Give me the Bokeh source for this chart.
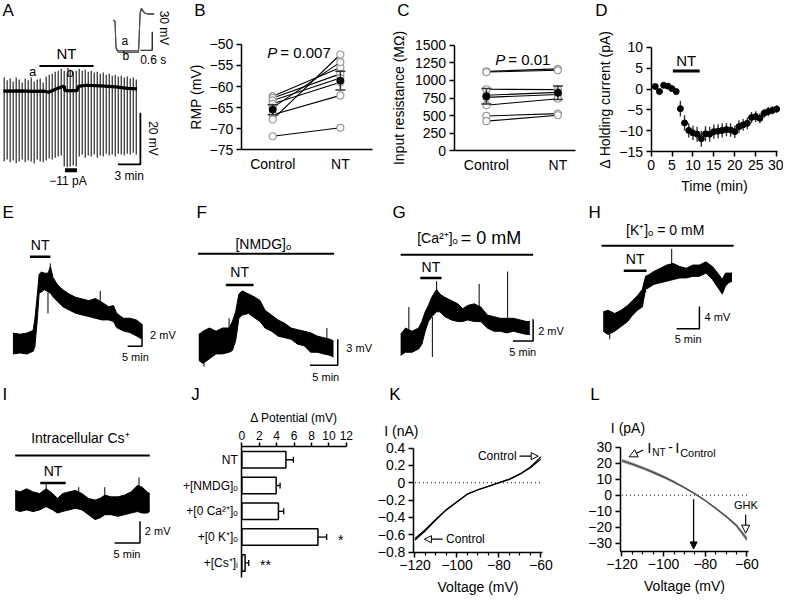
import math
from bokeh.plotting import figure
from bokeh.layouts import column, row
from bokeh.models import Range1d, FixedTicker, CustomJSTickFormatter, Arrow, NormalHead
from bokeh.core.properties import value
from bokeh.embed import file_html
from bokeh.resources import INLINE

FONT = "Liberation Sans"

# ---------------- Panel A: current-clamp recording ----------------
a_sweep_t = [0.1, 0.5, 0.9, 1.3, 1.7, 2.1, 2.5, 2.9, 3.3, 3.7, 4.1, 4.5, 4.9, 5.3, 5.7,
             6.1, 6.5, 6.9, 7.3, 7.7, 8.1, 8.5, 8.9, 9.3, 9.7, 10.1, 10.5, 10.9, 11.3, 11.7,
             12.1, 12.5, 12.9, 13.3, 13.7, 14.1, 14.5, 14.9, 15.3, 15.7, 16.1, 16.5, 16.9, 17.3, 17.7]
a_sweep_top = [5.3, 4.2, 4.9, 3.8, 5.3, 4.5, 3.4, 4.9, 4.2, 5.3, 3.8, 4.5, 4.9, 3.4,
               5.7, 6.4, 6.8, 7.5, 7.9, 8.7,
               7.9, 7.2, 8.3, 7.5, 7.9,
               8.7, 7.9, 8.3, 7.5, 7.9, 7.2, 7.5, 6.8, 7.2, 6.4, 6.8, 6.0, 6.4, 5.7, 6.0, 5.3, 5.7, 4.9, 5.3, 4.5]
a_sweep_bot = [-27.2, -26.4, -27.5, -26.8, -27.9, -27.2, -26.4, -27.5, -26.8, -27.2, -27.9, -26.4, -27.2, -27.5,
               -26.8, -26.0, -26.4, -25.7, -25.3, -24.9,
               -29.1, -29.4, -29.1, -28.7, -29.1,
               -25.3, -24.5, -25.7, -24.9, -25.3, -24.5, -25.7, -24.9, -25.3, -24.2, -24.9, -24.5, -25.3,
               -24.2, -24.5, -24.9, -24.2, -24.5, -23.8, -24.5]
a_trace_t = [0, 2, 4, 5.5, 6.0, 6.5, 7.2, 7.8, 8.1, 8.2, 9.8, 10.0, 11.0, 13.0, 15.0, 16.5, 17.8]
a_trace_v = [0, 0.1, -0.1, 0.0, -0.4, 0.2, 1.1, 1.7, 1.9, 0.2, 0.2, 1.9, 2.3, 2.1, 1.7, 1.1, 0.9]
a_nt_on, a_nt_off = 4.8, 12.0
a_inj_on, a_inj_off = 8.2, 9.8
a_scale_min, a_scale_mv = 3, 20
# inset (s, mV)
a_ins_t = [0.0, 0.1, 0.15, 0.25, 0.6, 1.0, 1.3, 1.33, 1.38, 1.45, 1.55, 1.65, 1.8, 2.1]
a_ins_a = [0, -2, -45, -50, -50, -50, -50, -30, 12, 19, 14, 11, 10, 10]
a_ins_b = [0, -2, -46, -52, -52.5, -52.5, -52.5, -32, 10, 17, 13, 10.5, 9.5, 9.5]
a_ins_scale_s, a_ins_scale_mv = 0.6, 30

# ---------------- Panel B: RMP ----------------
b_groups = ["Control", "NT"]
b_ctrl = [-62.3, -62.7, -63.3, -64.1, -65.0, -66.7, -67.8, -71.8]
b_nt = [-55.5, -57.0, -58.0, -59.0, -54.2, -62.1, -52.4, -69.8]
b_mean = [-65.5, -58.6]
b_sem = [1.2, 2.2]
b_ticks = [-75, -70, -65, -60, -55, -50]

# ---------------- Panel C: input resistance ----------------
c_ctrl = [1130, 1120, 875, 790, 760, 648, 495, 421]
c_nt = [1165, 1145, 870, 830, 800, 740, 528, 505]
c_mean = [775, 825]
c_sem = [110, 97]
c_ticks = [0, 250, 500, 750, 1000, 1250, 1500]

# ---------------- Panel D: holding current ----------------
d_t = [1, 2, 3, 4, 5, 6, 7, 8, 9, 10, 11, 12, 13, 14, 15, 16, 17, 18, 19, 20,
       21, 22, 23, 24, 25, 26, 27, 28, 29, 30]
d_mean = [0.6, -0.6, 0.9, 0.7, 0.1, -0.6, -4.7, -8.1, -9.9, -10.5, -10.8, -11.9, -10.7, -10.8, -10.2,
          -10.1, -9.9, -9.7, -9.8, -10.2, -9.0, -8.6, -8.2, -6.8, -6.6, -7.0, -5.8, -5.4, -5.1, -4.8]
d_sem = [0.3, 0.3, 0.3, 0.3, 0.3, 0.4, 1.9, 1.8, 1.7, 1.7, 1.8, 1.9, 1.8, 1.8, 1.7,
         1.7, 1.7, 1.6, 1.6, 1.5, 1.5, 1.4, 1.4, 1.3, 1.3, 1.2, 1.1, 1.1, 1.0, 0.9]
d_nt_on, d_nt_off = 5.2, 11.6
d_xticks = [0, 5, 10, 15, 20, 25, 30]
d_yticks = [-15, -10, -5, 0, 5, 10]

# ---------------- Panels E-I: traces (min, mV) ----------------
e_t = [0, 2.5, 4.8, 7.0, 7.6, 8.4, 9.1, 9.9, 11.0, 12.2, 13.0, 13.9, 15.6, 17.3, 19.5, 21.8, 24.1,
       26.4, 28.6, 30.9, 33.2, 34.9, 36.0, 38.3, 40.6, 42.8, 44.8]
e_hi = [0.95, 0.85, 0.95, 1.2, 2.2, 4.3, 6.3, 6.5, 6.4, 6.4, 7.0, 6.0, 5.3, 4.9, 4.5, 4.2, 4.05,
        3.9, 4.1, 3.75, 3.35, 3.45, 2.75, 2.3, 2.3, 2.15, 1.75]
e_lo = [-0.95, -0.85, -0.95, -0.7, -0.3, 2.0, 4.6, 4.7, 4.9, 4.7, 4.6, 4.25, 3.8, 3.35, 3.05, 2.75,
        2.6, 2.45, 2.3, 2.15, 2.15, 2.0, 1.45, 1.15, 1.0, 0.7, 0.4]
e_spk_t = [12.16, 12.95, 30.3]
e_spk_a = [4.65, 4.56, 2.15]
e_spk_b = [2.74, 7.29, 4.79]
e_nt = (5.9, 13.0)

f_t = [0, 0.76, 1.94, 3.12, 4.29, 5.47, 6.06, 6.65, 7.24, 7.82, 9.0, 10.18, 11.06, 11.94, 13.12,
       14.29, 15.47, 16.65, 17.82, 19.0, 20.18, 21.35, 22.53, 23.71, 24.29]
f_hi = [1.31, 1.69, 2.06, 1.69, 2.06, 2.06, 2.81, 3.93, 6.0, 6.37, 6.0, 5.62, 5.24, 4.12, 3.56,
        2.99, 2.62, 2.06, 1.87, 1.69, 1.50, 1.12, 0.94, 0.75, 0.56]
f_lo = [-1.69, -2.06, -1.50, -0.94, -0.94, -0.75, -0.56, 0.56, 3.18, 3.56, 3.75, 3.18, 2.81, 2.06,
        1.69, 1.12, 0.94, 0.75, 0.19, 0.0, -0.75, -0.75, -0.94, -1.12, -1.31]
f_spk_t = [0.94, 5.47, 23.1]
f_spk_a = [-1.5, 0.5, 0.0]
f_spk_b = [-2.43, 3.18, 2.06]
f_nt = (4.88, 9.88)
f_cond = (-0.12, 24.4)

g_t = [0, 1.21, 2.82, 4.44, 5.24, 6.05, 6.85, 7.66, 8.87, 9.68, 10.89, 12.5, 14.11, 15.32, 16.53,
       18.15, 19.76, 21.37, 22.98, 24.6, 26.21, 27.82, 29.44, 31.05, 31.85]
g_hi = [0.90, 1.49, 1.19, 1.49, 2.09, 2.99, 3.58, 4.33, 5.07, 4.63, 4.33, 4.03, 3.73, 3.28, 3.58,
        3.73, 3.43, 2.69, 2.54, 2.39, 2.39, 2.39, 2.24, 2.09, 2.09]
g_lo = [-1.04, -0.75, -0.75, -0.45, 0.0, 1.19, 2.09, 2.54, 2.99, 2.99, 2.54, 2.24, 2.09, 2.09, 2.24,
        2.09, 2.09, 1.49, 1.19, 1.19, 1.04, 1.19, 1.04, 0.90, 0.90]
g_spk_t = [2.02, 7.82, 8.87, 19.35, 26.37]
g_spk_a = [0.5, 2.5, 4.0, 2.5, 1.5]
g_spk_b = [3.43, -1.19, 5.82, 5.58, 6.72]
g_nt = (4.84, 10.08)
g_cond = (0.0, 32.66)

h_t = [0, 1.07, 2.5, 3.93, 5.36, 6.43, 7.5, 8.57, 9.29, 10.0, 11.07, 12.5, 13.93, 15.36, 16.79,
       18.21, 19.64, 21.07, 22.5, 23.93, 25.36, 26.07, 26.79, 27.5, 28.21]
h_hi = [1.74, 2.03, 1.45, 2.03, 2.90, 3.77, 4.64, 5.80, 8.12, 8.41, 8.99, 9.57, 10.14, 10.43, 9.86,
        9.57, 10.14, 10.14, 10.72, 9.86, 8.41, 7.54, 8.70, 8.70, 8.70]
h_lo = [-1.74, -2.32, -1.74, -0.87, 0.0, 1.16, 2.03, 2.61, 5.80, 6.09, 6.67, 6.96, 7.25, 7.54, 7.83,
        7.83, 8.12, 8.12, 8.70, 7.54, 5.80, 4.93, 6.38, 6.96, 7.25]
h_spk_t = [1.43, 9.29, 15.0]
h_spk_a = [-1.0, 6.0, 9.5]
h_spk_b = [-3.19, 5.22, 13.04]
h_nt = (4.5, 9.5)
h_cond = (-0.36, 28.57)

i_t = [0, 0.96, 2.24, 3.53, 4.81, 6.09, 7.37, 8.33, 9.29, 10.58, 11.86, 13.14, 14.42, 15.71, 16.67,
       17.63, 18.91, 20.19, 21.47, 22.76, 24.04, 25.0, 25.96, 26.47]
i_hi = [1.04, 0.90, 1.19, 0.90, 0.75, 1.19, 0.75, 0.30, 0.75, 0.90, 1.04, 0.75, 0.30, 0.15, 0.30,
        0.60, 0.45, 0.45, 0.60, 0.90, 1.49, 1.34, 0.90, 0.75]
i_lo = [-0.75, -0.90, -0.75, -0.90, -0.75, -0.45, -0.75, -1.04, -0.90, -0.75, -0.60, -0.75, -1.19,
        -1.64, -1.49, -1.19, -1.19, -1.34, -1.19, -1.04, -0.90, -1.04, -1.04, -0.90]
i_spk_t = [6.09, 12.5, 17.63, 24.36]
i_spk_a = [0.0, 0.0, -0.5, 0.0]
i_spk_b = [1.79, 1.34, 1.34, 2.24]
i_nt = (4.94, 9.94)
i_cond = (0.0, 26.47)

# ---------------- Panel J: bar chart ----------------
j_labels = ["NT", "+[NMDG]\u2092", "+[0 Ca\u00b2\u207a]\u2092", "+[0 K\u207a]\u2092", "+[Cs\u207a]\u1d62"]
j_vals = [5.06, 3.94, 4.2, 8.74, 0.37]
j_sem = [0.86, 0.45, 0.6, 1.0, 0.42]
j_sig = ["", "", "", "*", "**"]
j_ticks = [0, 2, 4, 6, 8, 10, 12]

# ---------------- Panels K, L: I-V curves ----------------
k_v = [-120, -115, -110, -105, -100, -95, -90, -85, -80, -75, -70, -65, -60]
k_ctrl = [-0.66, -0.552, -0.428, -0.313, -0.221, -0.131, -0.081, -0.041, 0.0, 0.039, 0.097, 0.172, 0.272]
k_nt = [-0.64, -0.538, -0.419, -0.307, -0.218, -0.129, -0.080, -0.040, 0.002, 0.042, 0.102, 0.181, 0.298]
k_yticks = [-0.8, -0.6, -0.4, -0.2, 0, 0.2, 0.4]
l_v = [-120, -115, -110, -105, -100, -95, -90, -85, -80, -75, -70, -65, -60]
l_hi = [22.5, 20.2, 17.6, 14.9, 12.0, 8.7, 5.0, 1.0, -3.3, -8.0, -13.0, -18.6, -26.5]
l_lo = [21.0, 18.8, 16.4, 13.8, 11.0, 7.9, 4.5, 0.7, -3.5, -8.3, -13.6, -19.5, -28.5]
l_mid = [21.7, 19.5, 17.0, 14.3, 11.5, 8.3, 4.7, 0.85, -3.4, -8.15, -13.3, -19.0, -27.5]
l_yticks = [-30, -20, -10, 0, 10, 20, 30]
l_erev = -85.6
v_major = [-120, -100, -80, -60]
v_minor = [-115, -110, -105, -95, -90, -85, -75, -70, -65]

MINUS_FMT = "return (tick < 0 ? '\u2212' : '') + Math.abs(tick);"


def panel(box, xa, ya, w, h, axes=False, xloc="below"):
    bx0, by0, bx1, by1 = box
    (dx1, px1), (dx2, px2) = xa
    (dy1, py1), (dy2, py2) = ya

    def fx(q):
        return dx1 + (q - px1) * (dx2 - dx1) / (px2 - px1)

    def fy(q):
        return dy1 + (q - py1) * (dy2 - dy1) / (py2 - py1)

    kw = {}
    if axes:
        kw["x_axis_location"] = xloc
    else:
        kw["x_axis_location"] = None
        kw["y_axis_location"] = None
    p = figure(width=w, height=h, x_range=Range1d(fx(bx0), fx(bx1)),
               y_range=Range1d(fy(by1), fy(by0)), output_backend="svg",
               toolbar_location=None, min_border=0, **kw)
    p.outline_line_color = None
    p.grid.grid_line_color = None
    p.background_fill_color = "white"
    p.border_fill_color = "white"
    return p, fx, fy


def txt(p, x, y, s, size=14, align="center", baseline="middle", angle=0.0, style="normal",
        color="black", xoff=0, **kw):
    p.text(x=[x], y=[y], text=[s], text_font=value(FONT), text_font_size=value(f"{size}px"),
           text_align=align, text_baseline=baseline, angle=angle, text_font_style=style,
           text_color=color, x_offset=xoff, **kw)


def style_axis(ax, ticks, loc, bounds, label="", minor=None, size="14px", overrides=None,
               tick_out=5, std=3, lab_std=4, lab_size="14px"):
    ax.ticker = FixedTicker(ticks=ticks, minor_ticks=minor or [])
    ax.fixed_location = loc
    ax.bounds = bounds
    if overrides is not None:
        ax.major_label_overrides = overrides
    else:
        ax.formatter = CustomJSTickFormatter(code=MINUS_FMT)
    ax.axis_line_color = "black"
    ax.axis_line_width = 1.5
    ax.major_tick_line_color = "black"
    ax.major_tick_line_width = 1.5
    ax.major_tick_out = tick_out
    ax.major_tick_in = 0
    ax.minor_tick_line_color = "black"
    ax.minor_tick_line_width = 1.2
    ax.minor_tick_out = 3 if minor else 0
    ax.minor_tick_in = 0
    ax.major_label_text_font = FONT
    ax.major_label_text_font_size = size
    ax.major_label_text_color = "black"
    ax.major_label_standoff = std
    ax.axis_label = label
    ax.axis_label_text_font = FONT
    ax.axis_label_text_font_size = lab_size
    ax.axis_label_text_font_style = "normal"
    ax.axis_label_text_color = "black"
    ax.axis_label_standoff = lab_std


def scalebar(p, xr, yb, dx, dy, lw=1.5):
    p.line(x=[xr - dx, xr, xr], y=[yb, yb, yb + dy], line_color="black", line_width=lw)


def letter(p, fx, fy, rx, ry, s):
    txt(p, fx(rx), fy(ry), s, size=17, align="left")


def trace(p, t, lo, hi, st, sa, sb):
    p.varea(x=t, y1=lo, y2=hi, fill_color="black")
    p.line(x=t, y=hi, line_color="black", line_width=1)
    p.line(x=t, y=lo, line_color="black", line_width=1)
    p.segment(x0=st, y0=sa, x1=st, y1=sb, line_color="black", line_width=1)


def hbar(p, x0, x1, y, lw=2.5):
    p.line(x=[x0, x1], y=[y, y], line_color="black", line_width=lw)


# ======================= Row 1 =======================
pA, fxA, fyA = panel((0, 0, 189, 203), ((0, 3), (3, 26)), ((0, 93), (20, 40)), 185, 198)
pA.extra_x_ranges = {"ix": Range1d((0 - 115) / 20.0, (189 - 115) / 20.0)}
pA.extra_y_ranges = {"iy": Range1d((20 - 203) / 0.633, (20 - 0) / 0.633)}
pA.segment(x0=a_sweep_t, y0=a_sweep_bot, x1=a_sweep_t, y1=a_sweep_top, line_color="#2a2a2a", line_width=1.2)
pA.line(x=a_trace_t, y=a_trace_v, line_color="black", line_width=3.2)
hbar(pA, a_nt_on, a_nt_off, 9.8, lw=2)
txt(pA, (a_nt_on + a_nt_off) / 2, 14.4, "NT", size=15)
txt(pA, 3.9, 7.6, "a", size=13)
txt(pA, 8.87, 7.3, "b", size=13)
hbar(pA, a_inj_on, a_inj_off, -30.6, lw=4)
txt(pA, 8.6, -34.6, "\u221211 pA", size=12)
scalebar(pA, 18.25, -28.3, a_scale_min, a_scale_mv, lw=1.8)
txt(pA, 16.75, -32.9, "3 min", size=12)
txt(pA, 19.9, -18.3, "20 mV", size=12, angle=-math.pi / 2)
pA.line(x=a_ins_t, y=a_ins_a, line_color="#333333", line_width=1.1, x_range_name="ix", y_range_name="iy")
pA.line(x=a_ins_t, y=a_ins_b, line_color="#555555", line_width=1.1, x_range_name="ix", y_range_name="iy")
pA.line(x=[2.0 - a_ins_scale_s, 2.0, 2.0], y=[-49, -49, -49 + a_ins_scale_mv], line_color="black",
        line_width=1.2, x_range_name="ix", y_range_name="iy")
txt(pA, 0.6, -34, "a", size=12, x_range_name="ix", y_range_name="iy")
txt(pA, 0.65, -59, "b", size=12, x_range_name="ix", y_range_name="iy")
txt(pA, 2.05, -64, "0.6 s", size=12, x_range_name="ix", y_range_name="iy")
txt(pA, 2.6, -13, "30 mV", size=12, angle=-math.pi / 2, x_range_name="ix", y_range_name="iy")
letter(pA, fxA, fyA, 2, 10, "A")

pB, fxB, fyB = panel((189, 0, 390, 203), ((0, 278), (1, 347)), ((-50, 45), (-75, 153)), 197, 198, axes=True)
style_axis(pB.yaxis[0], b_ticks, -0.464, (-75, -50), label="RMP (mV)", lab_std=3)
style_axis(pB.xaxis[0], [0, 1], -75, (-0.464, 1.48), overrides={0: b_groups[0], 1: b_groups[1]}, tick_out=0, std=6)
pB.multi_line(xs=[[0, 1] for _ in b_ctrl], ys=[[c, n] for c, n in zip(b_ctrl, b_nt)], line_color="black", line_width=1.1)
pB.scatter(x=[0] * len(b_ctrl), y=b_ctrl, size=7, fill_color="white", line_color="#9a9a9a", line_width=1.2)
pB.scatter(x=[1] * len(b_nt), y=b_nt, size=7, fill_color="white", line_color="#9a9a9a", line_width=1.2)
pB.segment(x0=[0, 1], y0=[m - s for m, s in zip(b_mean, b_sem)], x1=[0, 1], y1=[m + s for m, s in zip(b_mean, b_sem)],
           line_color="#333333", line_width=1.5)
pB.scatter(x=[0, 1, 0, 1], y=[m - s for m, s in zip(b_mean, b_sem)] + [m + s for m, s in zip(b_mean, b_sem)],
           marker="dash", size=10, line_color="#333333", line_width=1.5)
pB.scatter(x=[0, 1], y=b_mean, size=7, color="black")
txt(pB, fxB(272.5), fyB(53), "P", size=15, align="left", style="italic")
txt(pB, fxB(272.5), fyB(53), "= 0.007", size=15, align="left", xoff=13)
letter(pB, fxB, fyB, 198, 10, "B")

pC, fxC, fyC = panel((390, 0, 590, 203), ((0, 496), (1, 569)), ((1500, 46), (0, 154)), 196, 198, axes=True)
style_axis(pC.yaxis[0], c_ticks, -0.452, (0, 1500), label="Input resistance (M\u03a9)", lab_std=5)
style_axis(pC.xaxis[0], [0, 1], 0, (-0.452, 1.247), overrides={0: b_groups[0], 1: b_groups[1]}, tick_out=0, std=6)
pC.multi_line(xs=[[0, 1] for _ in c_ctrl], ys=[[c, n] for c, n in zip(c_ctrl, c_nt)], line_color="black", line_width=1.1)
pC.scatter(x=[0] * len(c_ctrl), y=c_ctrl, size=7, fill_color="white", line_color="#9a9a9a", line_width=1.2)
pC.scatter(x=[1] * len(c_nt), y=c_nt, size=7, fill_color="white", line_color="#9a9a9a", line_width=1.2)
pC.segment(x0=[0, 1], y0=[m - s for m, s in zip(c_mean, c_sem)], x1=[0, 1], y1=[m + s for m, s in zip(c_mean, c_sem)],
           line_color="#333333", line_width=1.5)
pC.scatter(x=[0, 1, 0, 1], y=[m - s for m, s in zip(c_mean, c_sem)] + [m + s for m, s in zip(c_mean, c_sem)],
           marker="dash", size=10, line_color="#333333", line_width=1.5)
pC.scatter(x=[0, 1], y=c_mean, size=7, color="black")
txt(pC, fxC(505), fyC(60), "P", size=15, align="left", style="italic")
txt(pC, fxC(505), fyC(60), "= 0.01", size=15, align="left", xoff=13)
letter(pC, fxC, fyC, 405, 10, "C")

pD, fxD, fyD = panel((590, 0, 799, 203), ((0, 664), (30, 792)), ((10, 48), (-15, 155)), 205, 198, axes=True)
style_axis(pD.yaxis[0], d_yticks, 0, (-15, 10), label="\u0394 Holding current (pA)", lab_std=4)
style_axis(pD.xaxis[0], d_xticks, -15, (0, 30.3), label="Time (min)", lab_std=5)
pD.segment(x0=d_t, y0=[m - s for m, s in zip(d_mean, d_sem)], x1=d_t, y1=[m + s for m, s in zip(d_mean, d_sem)],
           line_color="#333333", line_width=1.4)
pD.scatter(x=d_t, y=d_mean, size=6, color="black")
hbar(pD, d_nt_on, d_nt_off, 4.3, lw=3)
txt(pD, (d_nt_on + d_nt_off) / 2, 6.9, "NT", size=15)
letter(pD, fxD, fyD, 607, 10, "D")

# ======================= Row 2 =======================
pE, fxE, fyE = panel((0, 203, 200, 396), ((0, 12.7), (5, 27.4)), ((0, 352.7), (2, 330.0)), 196, 187)
trace(pE, e_t, e_lo, e_hi, e_spk_t, e_spk_a, e_spk_b)
hbar(pE, e_nt[0], e_nt[1], 7.9)
txt(pE, (e_nt[0] + e_nt[1]) / 2, 8.95, "NT", size=14)
scalebar(pE, 44.8, -0.25, 5, 2)
txt(pE, 47.6, 0.75, "2 mV", size=11, align="left")
txt(pE, 42.5, -1.25, "5 min", size=11)
letter(pE, fxE, fyE, 2, 217, "E")

pF, fxF, fyF = panel((200, 203, 400, 396), ((0, 202.3), (5, 230.6)), ((0, 355), (3, 328.3)), 196, 187)
trace(pF, f_t, f_lo, f_hi, f_spk_t, f_spk_a, f_spk_b)
hbar(pF, f_cond[0], f_cond[1], 10.67, lw=2)
txt(pF, 11.65, 11.75, "[NMDG]\u2092", size=14)
hbar(pF, f_nt[0], f_nt[1], 7.04)
txt(pF, (f_nt[0] + f_nt[1]) / 2, 8.5, "NT", size=14)
scalebar(pF, 25.06, -2.25, 5, 3)
txt(pF, 26.6, -0.3, "3 mV", size=11, align="left")
txt(pF, 22.9, -3.6, "5 min", size=11)
letter(pF, fxF, fyF, 200, 217, "F")

pG, fxG, fyG = panel((400, 203, 600, 396), ((0, 408.3), (5, 429)), ((0, 353.3), (2, 331)), 196, 187)
trace(pG, g_t, g_lo, g_hi, g_spk_t, g_spk_a, g_spk_b)
hbar(pG, g_cond[0], g_cond[1], 8.27, lw=2)
txt(pG, 14.1, 9.8, "[Ca\u00b2\u207a]\u2092", size=14, align="right")
txt(pG, 14.8, 9.8, "= 0 mM", size=18, align="left")
hbar(pG, g_nt[0], g_nt[1], 6.12)
txt(pG, (g_nt[0] + g_nt[1]) / 2, 7.1, "NT", size=14)
scalebar(pG, 32.66, 0.30, 5, 2)
txt(pG, 33.9, 1.25, "2 mV", size=11, align="left")
txt(pG, 30.1, -0.7, "5 min", size=11)
letter(pG, fxG, fyG, 400, 217, "G")

pH, fxH, fyH = panel((600, 203, 799, 396), ((0, 615), (5, 638.3)), ((0, 330), (4, 307)), 195, 187)
trace(pH, h_t, h_lo, h_hi, h_spk_t, h_spk_a, h_spk_b)
hbar(pH, h_cond[0], h_cond[1], 13.62, lw=2)
txt(pH, 13.57, 16.5, "[K\u207a]\u2092 = 0 mM", size=14)
hbar(pH, h_nt[0], h_nt[1], 9.1)
txt(pH, (h_nt[0] + h_nt[1]) / 2, 11.3, "NT", size=14)
scalebar(pH, 21.07, -1.28, 5, 4)
txt(pH, 22.2, 0.87, "4 mV", size=11, align="left")
txt(pH, 18.6, -3.2, "5 min", size=11)
letter(pH, fxH, fyH, 600, 217, "H")

# ======================= Row 3 =======================
pI, fxI, fyI = panel((0, 396, 180, 611), ((0, 15), (5, 41)), ((0, 515), (2, 492.7)), 176, 210)
trace(pI, i_t, i_lo, i_hi, i_spk_t, i_spk_a, i_spk_b)
hbar(pI, i_cond[0], i_cond[1], 4.24, lw=2)
txt(pI, 12.82, 5.82, "Intracellular Cs\u207a", size=14)
hbar(pI, i_nt[0], i_nt[1], 1.73)
txt(pI, (i_nt[0] + i_nt[1]) / 2, 2.78, "NT", size=14)
scalebar(pI, 24.55, -3.79, 5, 2)
txt(pI, 25.5, -2.69, "2 mV", size=11, align="left")
txt(pI, 22.0, -4.8, "5 min", size=11)
letter(pI, fxI, fyI, 2, 405, "I")

pJ, fxJ, fyJ = panel((180, 396, 380, 611), ((0, 246.7), (12, 353.3)), ((0, 472), (1, 498.4)), 196, 210,
                     axes=True, xloc="above")
j_idx = list(range(len(j_labels)))
style_axis(pJ.xaxis[0], j_ticks, -0.53, (0, 12), label="\u0394 Potential (mV)", size="12px",
           lab_size="12px", tick_out=4, std=2, lab_std=4)
style_axis(pJ.yaxis[0], j_idx, 0, (-0.53, 4.55), overrides={i: l for i, l in zip(j_idx, j_labels)},
           size="12px", tick_out=0, std=4)
pJ.hbar(y=j_idx, left=0, right=j_vals, height=0.64, fill_color="white", line_color="black", line_width=1.5)
pJ.segment(x0=j_vals, y0=j_idx, x1=[v + s for v, s in zip(j_vals, j_sem)], y1=j_idx, line_color="black", line_width=1.3)
pJ.scatter(x=[v + s for v, s in zip(j_vals, j_sem)], y=j_idx, marker="dash", angle=math.pi / 2, size=6,
           line_color="black", line_width=1.3)
for i, (v, s, g) in enumerate(zip(j_vals, j_sem, j_sig)):
    if g:
        txt(pJ, v + s + 1.3, i + 0.1, g, size=14, align="left")
letter(pJ, fxJ, fyJ, 195, 405, "J")

pK, fxK, fyK = panel((380, 396, 590, 611), ((-120, 423.3), (-60, 551.7)), ((0.4, 460), (-0.8, 566.7)), 206, 210,
                     axes=True)
style_axis(pK.yaxis[0], k_yticks, -120.75, (-0.8, 0.4), size="14px")
style_axis(pK.xaxis[0], v_major, -0.8, (-120.75, -59.3), minor=v_minor, label="Voltage (mV)", lab_std=5)
pK.line(x=[-120, -60], y=[0, 0], line_color="black", line_dash="1 3", line_width=1)
pK.line(x=k_v, y=k_ctrl, line_color="black", line_width=1.2)
pK.line(x=k_v, y=k_nt, line_color="black", line_width=1.2)
txt(pK, fxK(392), fyK(443), "I (nA)", size=14, align="left")
txt(pK, -71.6, 0.306, "Control", size=12, align="right")
pK.add_layout(Arrow(end=NormalHead(size=7, fill_color="white", line_color="black", line_width=1),
                    x_start=-70.2, y_start=0.306, x_end=-61.3, y_end=0.306, line_width=1.2))
txt(pK, -105.2, -0.65, "Control", size=12, align="left")
pK.add_layout(Arrow(end=NormalHead(size=7, fill_color="white", line_color="black", line_width=1),
                    x_start=-106.8, y_start=-0.65, x_end=-115.5, y_end=-0.65, line_width=1.2))
letter(pK, fxK, fyK, 397, 405, "K")

pL, fxL, fyL = panel((590, 396, 799, 611), ((-120, 634.3), (-60, 761.7)), ((30, 459.3), (-30, 557.3)), 205, 210,
                     axes=True)
style_axis(pL.yaxis[0], l_yticks, -120.9, (-35, 30), size="14px")
style_axis(pL.xaxis[0], v_major, -35, (-120.9, -59.3), minor=v_minor, label="Voltage (mV)", lab_std=5)
pL.line(x=[-120, -60], y=[0, 0], line_color="black", line_dash="1 3", line_width=1)
pL.line(x=l_v, y=l_hi, line_color="#9a9a9a", line_width=1.2)
pL.line(x=l_v, y=l_lo, line_color="#9a9a9a", line_width=1.2)
pL.line(x=l_v, y=l_mid, line_color="#444444", line_width=1.2)
txt(pL, fxL(623), fyL(440), "I (pA)", size=14, align="left")
lx, ly = fxL(660), fyL(459)
txt(pL, lx, ly, "I", size=15, align="left")
txt(pL, lx, ly, "NT", size=10, align="left", baseline="top", xoff=5)
txt(pL, lx, ly, "-", size=14, align="left", xoff=21)
txt(pL, lx, ly, "I", size=15, align="left", xoff=28)
txt(pL, lx, ly, "Control", size=11, align="left", baseline="top", xoff=33)
pL.add_layout(Arrow(end=NormalHead(size=8, fill_color="white", line_color="black", line_width=1),
                    x_start=fxL(656), y_start=fyL(462), x_end=fxL(641.7), y_end=fyL(469), line_width=1.2))
pL.add_layout(Arrow(end=NormalHead(size=7, fill_color="black", line_color="black", line_width=1),
                    x_start=l_erev, y_start=-2.6, x_end=l_erev, y_end=-33.7, line_width=1.3))
txt(pL, -60.5, -6.1, "GHK", size=11)
pL.add_layout(Arrow(end=NormalHead(size=8, fill_color="white", line_color="black", line_width=1),
                    x_start=-60.6, y_start=-12.2, x_end=-60.6, y_end=-23.8, line_width=1.2))
letter(pL, fxL, fyL, 602, 405, "L")

layout = column(row(pA, pB, pC, pD), row(pE, pF, pG, pH), row(pI, pJ, pK, pL))
open("out.html", "w").write(file_html(layout, INLINE))
